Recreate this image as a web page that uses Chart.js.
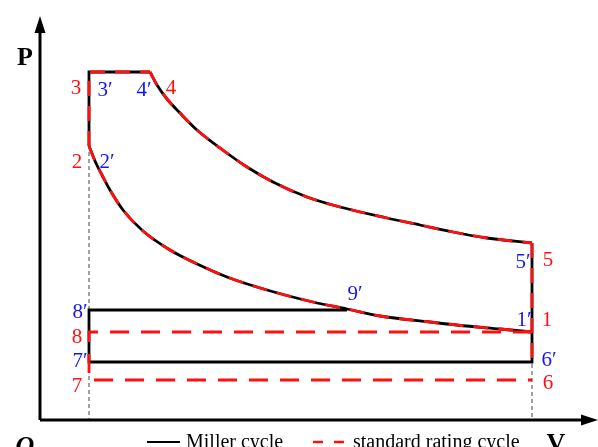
<!DOCTYPE html>
<html>
<head>
<meta charset="utf-8">
<script src="https://cdn.jsdelivr.net/npm/chart.js@4"></script>
<style>
  html, body { margin: 0; padding: 0; background: #fff; }
  canvas { display: block; }
</style>
</head>
<body>
<canvas id="pv" width="598" height="447"></canvas>
<script>
// volume (V) and pressure (P), origin at O
const compV = [49, 55, 63, 70, 83, 103, 130, 153, 187, 227, 273, 307, 340, 390, 426, 460, 492];
const compP = [274, 259, 243, 230, 210, 189, 170, 158, 143, 130, 118, 111, 104, 98, 94, 91, 88];
const expV = [110, 117, 127, 140, 157, 180, 207, 233, 267, 300, 347, 380, 413, 447, 492];
const expP = [348, 335, 321, 307, 290, 272, 253, 238, 223, 213, 202, 195, 188, 182, 177];

// state points
const ptNames = ["2", "3", "4", "5", "1", "6'", "7'", "8'", "9'", "8", "7", "6"];
const ptV = [49, 49, 110, 492, 492, 492, 49, 49, 307, 49, 49, 492];
const ptP = [274, 348, 348, 177, 88, 58, 58, 110, 110, 88, 40, 40];

const seriesNames = ["Miller cycle", "standard rating cycle"];

function pt(name){
  const i = ptNames.indexOf(name);
  return { x: ptV[i], y: ptP[i] };
}
function path(names){ return names.map(pt); }
function curve(vs, ps){ return vs.map((v, i) => ({ x: v, y: ps[i] })); }

const RED = "#ff1010";
const BLUE = "#1414ff";

function blk(data, smooth){
  return { data, borderColor: "#000", borderWidth: 2.8, pointRadius: 0, order: 3,
    tension: 0, cubicInterpolationMode: smooth ? "monotone" : "default", showLine: true };
}
function red(data, smooth, dash){
  return { data, borderColor: RED, borderWidth: 2.8, borderDash: dash || [15, 10], pointRadius: 0, order: 1,
    tension: 0, cubicInterpolationMode: smooth ? "monotone" : "default", showLine: true };
}

const datasets = [
  blk(curve(compV, compP), true),
  blk(curve(expV, expP), true),
  blk(path(["2", "3", "4"])),
  blk(path(["5", "6'", "7'", "8'", "9'"])),
  red(curve(compV, compP), true),
  red(curve(expV, expP), true),
  red(path(["2", "3", "4"])),
  red(path(["5", "6'"])),
  red(path(["1", "8", "7", "6"]), false, [19, 12]),
  { data: [{ x: 49, y: 268 }, { x: 49, y: 0 }], borderColor: "#444", borderWidth: 1,
    borderDash: [4, 3], pointRadius: 0, order: 5, showLine: true },
  { data: [{ x: 492, y: 56 }, { x: 492, y: 0 }], borderColor: "#444", borderWidth: 1,
    borderDash: [4, 3], pointRadius: 0, order: 5, showLine: true }
];

// point labels: text, colour, V, P of the text centre
const labels = [
  ["3", RED, 36, 332], ["3\u2032", BLUE, 65, 330], ["4\u2032", BLUE, 104, 330], ["4", RED, 131, 332],
  ["2", RED, 37, 258], ["2\u2032", BLUE, 67, 258],
  ["5\u2032", BLUE, 483, 158], ["5", RED, 508, 160],
  ["9\u2032", BLUE, 315, 126],
  ["1\u2032", BLUE, 484, 100], ["1", RED, 507, 100],
  ["8\u2032", BLUE, 40, 108], ["8", RED, 37, 83],
  ["7\u2032", BLUE, 40, 59], ["7", RED, 37, 34],
  ["6\u2032", BLUE, 509, 60], ["6", RED, 508, 37]
];

const drawing = {
  id: "drawing",
  afterDatasetsDraw(chart){
    const { ctx } = chart;
    const sx = chart.scales.x, sy = chart.scales.y;
    const X = v => sx.getPixelForValue(v), Y = p => sy.getPixelForValue(p);

    // axes with arrow heads
    ctx.save();
    ctx.strokeStyle = "#000";
    ctx.fillStyle = "#000";
    ctx.lineWidth = 3;
    ctx.beginPath();
    ctx.moveTo(X(0), Y(0)); ctx.lineTo(X(0), Y(392));
    ctx.moveTo(X(0), Y(0)); ctx.lineTo(X(546), Y(0));
    ctx.stroke();
    ctx.beginPath();
    ctx.moveTo(X(0), Y(404)); ctx.lineTo(X(0) - 5.5, Y(387)); ctx.lineTo(X(0) + 5.5, Y(387)); ctx.closePath();
    ctx.moveTo(X(558), Y(0)); ctx.lineTo(X(541), Y(0) - 5.5); ctx.lineTo(X(541), Y(0) + 5.5); ctx.closePath();
    ctx.fill();

    // axis letters
    ctx.textAlign = "center";
    ctx.textBaseline = "alphabetic";
    ctx.font = "bold 26px 'Liberation Serif'";
    ctx.fillText("P", 25, 65);
    ctx.fillText("V", 556, 451);
    ctx.font = "italic bold 26px 'Liberation Serif'";
    ctx.fillText("O", 25, 454);

    // point labels
    ctx.font = "21px 'Liberation Serif'";
    ctx.textBaseline = "middle";
    labels.forEach(([t, c, v, p]) => {
      ctx.fillStyle = c;
      ctx.fillText(t, X(v), Y(p));
    });

    // legend
    ctx.font = "20px 'Liberation Serif'";
    ctx.textAlign = "left";
    ctx.textBaseline = "alphabetic";
    ctx.fillStyle = "#000";
    ctx.lineWidth = 2;
    ctx.beginPath(); ctx.moveTo(147, 442); ctx.lineTo(180, 442); ctx.stroke();
    ctx.fillText(seriesNames[0], 186, 448);
    ctx.strokeStyle = RED;
    ctx.lineWidth = 2.5;
    ctx.setLineDash([10, 11]);
    ctx.beginPath(); ctx.moveTo(313, 442); ctx.lineTo(345, 442); ctx.stroke();
    ctx.setLineDash([]);
    ctx.fillText(seriesNames[1], 353, 448);
    ctx.restore();
  }
};

new Chart(document.getElementById("pv"), {
  type: "scatter",
  data: { datasets },
  options: {
    responsive: false,
    animation: false,
    layout: { padding: 0 },
    plugins: { legend: { display: false }, tooltip: { enabled: false } },
    scales: {
      x: { type: "linear", min: -40, max: 558, display: false },
      y: { type: "linear", min: -27, max: 420, display: false }
    }
  },
  plugins: [drawing]
});
</script>
</body>
</html>
